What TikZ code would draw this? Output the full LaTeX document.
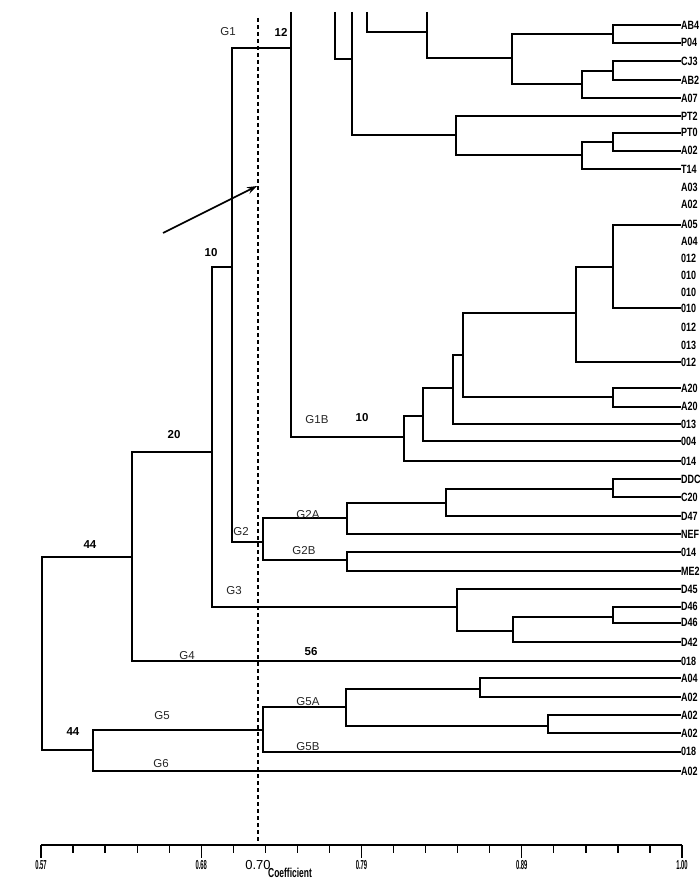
\documentclass[tikz,border=0pt]{standalone}
\usepackage{fontspec}
\setmainfont{Liberation Sans}
\usetikzlibrary{arrows.meta}

\begin{document}
\begin{tikzpicture}[x=1pt, y=-1pt,
    branch/.style={line width=1.7pt},
    leaf/.style={anchor=west, inner sep=0pt, xscale=0.75, font=\fontsize{12}{12}\selectfont\bfseries},
    grp/.style={inner sep=0pt, font=\fontsize{11.5}{11.5}\selectfont, text=black!85},
    num/.style={inner sep=0pt, font=\fontsize{11.5}{11.5}\selectfont\bfseries},
    ticklab/.style={inner sep=0pt, xscale=0.45, font=\fontsize{13}{13}\selectfont\bfseries}]
    \clip (0,0) rectangle (700,880);
    \fill[white] (0,0) rectangle (700,880);

    % Leaves
    \foreach \name/\yy/\txt in {L0/25/AB4, L1/42.7/P04, L2/61/CJ3, L3/80/AB2, L4/98.3/A07,
        L5/116/PT2, L6/132.7/PT0, L7/150.7/A02, L8/169.3/T14, L9/187/A03, L10/204/A02,
        L11/224.7/A05, L12/241/A04, L13/258/012, L14/275/010, L15/292/010, L16/308.3/010,
        L17/327/012, L18/345/013, L19/362/012, L20/388.3/A20, L21/406.7/A20, L22/424/013,
        L23/441/004, L24/461/014, L25/479.3/DDC, L26/497.3/C20, L27/516/D47, L28/534.3/NEF,
        L29/552.3/014, L30/571/ME2, L31/589/D45, L32/606.7/D46, L33/622.7/D46, L34/642/D42,
        L35/661/018, L36/678/A04, L37/697/A02, L38/715/A02, L39/733/A02, L40/751.7/018,
        L41/771/A02}
        \node[leaf] (\name) at (681,\yy) {\txt};

    % Branch points
    \coordinate (t291) at (291,12);
    \coordinate (t335) at (335,12);
    \coordinate (t352) at (352,12);
    \coordinate (t367) at (367,12);
    \coordinate (t427) at (427,12);
    \coordinate (a352) at (352,59.3);
    \coordinate (a427) at (427,31.7);
    \coordinate (a512) at (511.7,58.3);
    \coordinate (a613a) at (612.7,33.8);
    \coordinate (a582a) at (581.7,84);
    \coordinate (a613b) at (612.7,70.7);
    \coordinate (b456) at (456,135);
    \coordinate (a582b) at (581.7,155);
    \coordinate (a613c) at (612.7,141.7);
    \coordinate (g1) at (291,48);
    \coordinate (g1b) at (404,437.3);
    \coordinate (a423) at (422.7,416);
    \coordinate (a453) at (453.3,388.3);
    \coordinate (a463) at (463.3,355);
    \coordinate (a576) at (576,312.7);
    \coordinate (a613d) at (613.3,266.7);
    \coordinate (a613e) at (613.3,396.7);
    \coordinate (a232) at (232,267);
    \coordinate (a212) at (212,451.7);
    \coordinate (a132) at (132,556.7);
    \coordinate (root) at (41.7,650);
    \coordinate (g2) at (263,541.7);
    \coordinate (g2a) at (347,518.3);
    \coordinate (g2b) at (347,560);
    \coordinate (a446) at (446,503);
    \coordinate (a613f) at (612.7,489.3);
    \coordinate (g3) at (457,607);
    \coordinate (a513) at (512.7,630.7);
    \coordinate (a613g) at (612.7,616.7);
    \coordinate (a93) at (93,750);
    \coordinate (g5) at (263,730);
    \coordinate (g5a) at (346,706.7);
    \coordinate (a480) at (480,689);
    \coordinate (a548) at (548,726);

    % G1 (upper part runs off the top)
    \draw[branch] (t335) |- (a352);
    \draw[branch] (t352) |- (b456);
    \draw[branch] (t367) |- (a427);
    \draw[branch] (t427) |- (a512);
    \draw[branch] (a512) |- (a613a);
    \draw[branch] (a512) |- (a582a);
    \draw[branch] (a613a) |- (L0.west);
    \draw[branch] (a613a) |- (L1.west);
    \draw[branch] (a582a) |- (a613b);
    \draw[branch] (a582a) |- (L4.west);
    \draw[branch] (a613b) |- (L2.west);
    \draw[branch] (a613b) |- (L3.west);
    \draw[branch] (b456) |- (L5.west);
    \draw[branch] (b456) |- (a582b);
    \draw[branch] (a582b) |- (a613c);
    \draw[branch] (a582b) |- (L8.west);
    \draw[branch] (a613c) |- (L6.west);
    \draw[branch] (a613c) |- (L7.west);

    % G1B
    \draw[branch] (t291) |- (g1b);
    \draw[branch] (g1b) |- (a423);
    \draw[branch] (g1b) |- (L24.west);
    \draw[branch] (a423) |- (a453);
    \draw[branch] (a423) |- (L23.west);
    \draw[branch] (a453) |- (a463);
    \draw[branch] (a453) |- (L22.west);
    \draw[branch] (a463) |- (a576);
    \draw[branch] (a463) |- (a613e);
    \draw[branch] (a576) |- (a613d);
    \draw[branch] (a576) |- (L19.west);
    \draw[branch] (a613d) |- (L11.west);
    \draw[branch] (a613d) |- (L16.west);
    \draw[branch] (a613e) |- (L20.west);
    \draw[branch] (a613e) |- (L21.west);

    % G2
    \draw[branch] (a232) |- (g1);
    \draw[branch] (a232) |- (g2);
    \draw[branch] (g2) |- (g2a);
    \draw[branch] (g2) |- (g2b);
    \draw[branch] (g2a) |- (a446);
    \draw[branch] (g2a) |- (L28.west);
    \draw[branch] (a446) |- (a613f);
    \draw[branch] (a446) |- (L27.west);
    \draw[branch] (a613f) |- (L25.west);
    \draw[branch] (a613f) |- (L26.west);
    \draw[branch] (g2b) |- (L29.west);
    \draw[branch] (g2b) |- (L30.west);

    % G3 and G4
    \draw[branch] (a212) |- (a232);
    \draw[branch] (a212) |- (g3);
    \draw[branch] (g3) |- (L31.west);
    \draw[branch] (g3) |- (a513);
    \draw[branch] (a513) |- (a613g);
    \draw[branch] (a513) |- (L34.west);
    \draw[branch] (a613g) |- (L32.west);
    \draw[branch] (a613g) |- (L33.west);
    \draw[branch] (a132) |- (a212);
    \draw[branch] (a132) |- (L35.west);

    % G5, G6 and root
    \draw[branch] (root) |- (a132);
    \draw[branch] (root) |- (a93);
    \draw[branch] (a93) |- (g5);
    \draw[branch] (a93) |- (L41.west);
    \draw[branch] (g5) |- (g5a);
    \draw[branch] (g5) |- (L40.west);
    \draw[branch] (g5a) |- (a480);
    \draw[branch] (g5a) |- (a548);
    \draw[branch] (a480) |- (L36.west);
    \draw[branch] (a480) |- (L37.west);
    \draw[branch] (a548) |- (L38.west);
    \draw[branch] (a548) |- (L39.west);

    % Group labels
    \node[grp] (lG1) at (228,32) {G1};
    \node[num] (n12) at (281,32) {12};
    \node[num] (n10a) at (211,253) {10};
    \node[num] (n20) at (174,435) {20};
    \node[num] (n44a) at (90,545) {44};
    \node[grp] (lG1B) at (317,420) {G1B};
    \node[num] (n10b) at (362,418) {10};
    \node[grp] (lG2A) at (308,515) {G2A};
    \node[grp] (lG2) at (241,532) {G2};
    \node[grp] (lG2B) at (304,551) {G2B};
    \node[grp] (lG3) at (234,591) {G3};
    \node[grp] (lG4) at (187,656) {G4};
    \node[num] (n56) at (311,652) {56};
    \node[grp] (lG5A) at (308,702) {G5A};
    \node[grp] (lG5B) at (308,747) {G5B};
    \node[grp] (lG5) at (162,716) {G5};
    \node[num] (n44b) at (73,732) {44};
    \node[grp] (lG6) at (161,764) {G6};

    % Cut-off line and arrow
    \coordinate (cuttop) at (258,18);
    \coordinate (cutbot) at (258,845);
    \draw[line width=1.4pt, dash pattern=on 4pt off 3pt] (cuttop) -- (cutbot);
    \coordinate (arrtail) at (163,233);
    \coordinate (arrhead) at (257,186);
    \draw[line width=1.6pt, -{Stealth[length=10pt, width=7pt]}] (arrtail) -- (arrhead);

    % Axis
    \coordinate (axl) at (41,845);
    \coordinate (axr) at (682,845);
    \draw[line width=1.6pt] (axl) -- (axr);
    \foreach \i in {0,...,20}
        \draw[line width=1.3pt] ([xshift=32.05*\i pt]axl) -- ++(0,8);
    \foreach \i/\lab in {0/0.57, 5/0.68, 10/0.79, 15/0.89, 20/1.00} {
        \draw[line width=1.3pt] ([xshift=32.05*\i pt]axl) -- ++(0,13);
        \node[ticklab] (tk\i) at ([xshift=32.05*\i pt, yshift=-20pt]axl) {\lab};
    }
    \node[inner sep=0pt, font=\fontsize{13}{13}\selectfont] (lcut) at (258,865) {0.70};
    \node[inner sep=0pt, xscale=0.65, font=\fontsize{13}{13}\selectfont\bfseries] (lcoef) at (290,873) {Coefficient};
\end{tikzpicture}
\end{document}
